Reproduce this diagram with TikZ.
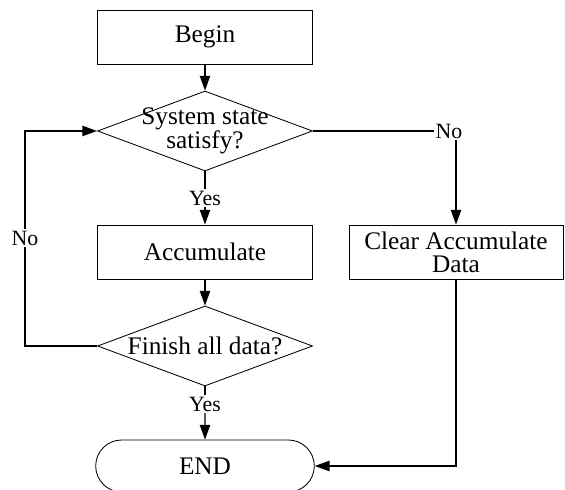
\documentclass[tikz,border=0pt]{standalone}
\usepackage{fontspec}
\setmainfont{Liberation Serif}
\usetikzlibrary{shapes.geometric,shapes.misc,arrows.meta}

\begin{document}
\begin{tikzpicture}[line width=0.6pt,
  box/.style={draw,rectangle,minimum width=5.375cm,minimum height=1.35cm,align=center,font=\fontsize{18}{16.5}\selectfont},
  dec/.style={draw,diamond,minimum width=5.375cm,minimum height=2cm,inner sep=0pt},
  dtext/.style={align=center,font=\fontsize{18}{16.5}\selectfont},
  term/.style={draw,rounded rectangle,minimum width=5.7cm,minimum height=1.3cm,font=\fontsize{18}{16}\selectfont},
  lab/.style={inner sep=1pt,font=\fontsize{15.5}{17}\selectfont},
  arr/.style={-{Triangle[length=0.37cm,width=0.26cm]},line width=0.9pt},
  ln/.style={line width=0.9pt}]

\useasboundingbox (0,0) rectangle (14.125,12.25);

\node [box] (begin) at (5.125,11.325) {Begin};
\node [dec,label={[dtext]center:System state\\satisfy?}] (sys) at (5.125,8.975) {};
\node [box] (acc) at (5.125,5.95) {Accumulate};
\node [dec,label={[dtext]center:Finish all data?}] (fin) at (5.125,3.6) {};
\node [term] (end) at (5.125,0.6) {END};
\node [box,minimum width=5.35cm] (clr) at (11.4,5.95) {Clear Accumulate\\Data};

\node [lab] (yes1) at (5.125,7.3) {Yes};
\node [lab] (yes2) at (5.125,2.15) {Yes};
\node [lab] (noR) at (11.225,8.975) {No};
\node [lab] (noL) at (0.625,6.3) {No};

\draw [arr] (begin) -- (sys);
\draw [ln]  (sys) -- (yes1);
\draw [arr] (yes1) -- (acc);
\draw [arr] (acc) -- (fin);
\draw [ln]  (fin) -- (yes2);
\draw [arr] (yes2) -- (end);

\draw [ln]  (sys) -- (noR);
\draw [arr] (noR.south -| clr.north) -- (clr);
\draw [arr] (clr) |- (end);

\draw [ln]  (fin) -| (noL);
\draw [arr] (noL) |- (sys);
\end{tikzpicture}
\end{document}
